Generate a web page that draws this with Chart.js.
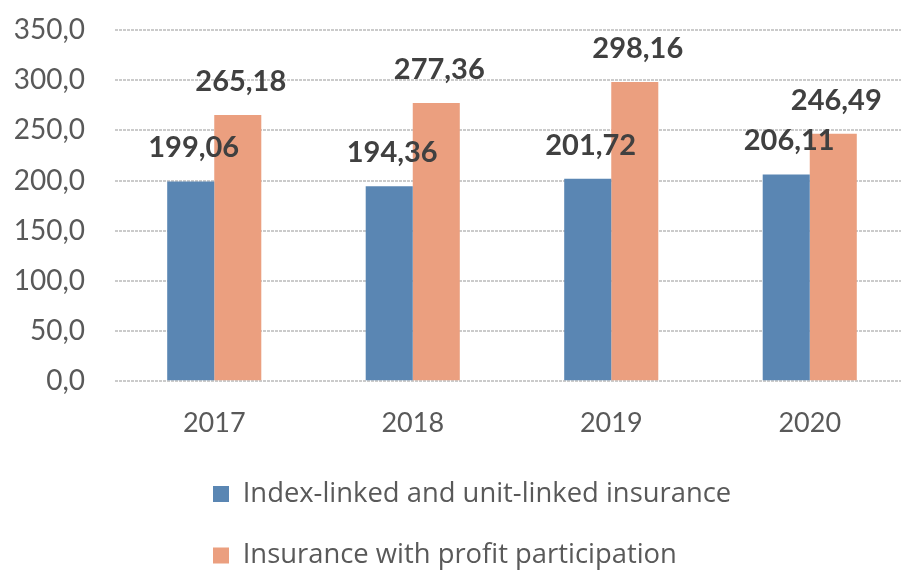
<!DOCTYPE html>
<html>
<head>
<meta charset="utf-8">
<script src="https://cdn.jsdelivr.net/npm/chart.js@4"></script>
<style>
  html, body { margin: 0; padding: 0; background: #ffffff; overflow: hidden; }
  #wrap { position: relative; width: 910px; height: 590px; }
</style>
</head>
<body>
<div id="wrap"><canvas id="c"></canvas></div>
<script>
const categories = ['2017', '2018', '2019', '2020'];
const seriesNames = ['Index-linked and unit-linked insurance', 'Insurance with profit participation'];
const indexLinked = [199.06, 194.36, 201.72, 206.11];
const profitParticipation = [265.18, 277.36, 298.16, 246.49];
const yTicks = [0, 50, 100, 150, 200, 250, 300, 350];

const FONT = 'Lato, "Open Sans", sans-serif';
const LEGEND_FONT = '"Open Sans", Lato, sans-serif';
const fmt = (v, d) => v.toFixed(d).replace('.', ',');

const dataLabels = {
  id: 'dataLabels',
  afterDatasetsDraw(chart) {
    const ctx = chart.ctx;
    ctx.save();
    ctx.font = 'bold 29px ' + FONT;
    ctx.fillStyle = '#404040';
    ctx.textAlign = 'center';
    ctx.textBaseline = 'alphabetic';
    chart.data.datasets.forEach((ds, i) => {
      const meta = chart.getDatasetMeta(i);
      meta.data.forEach((el, j) => {
        ctx.fillText(fmt(ds.data[j], 2), el.x + 3, el.y - 24);
      });
    });
    ctx.restore();
  }
};

const legendPlace = {
  id: 'legendPlace',
  afterLayout(chart) {
    const lg = chart.legend;
    if (lg) { lg.left = 179; lg.top = 446.3; }
  }
};

new Chart(document.getElementById('c'), {
  type: 'bar',
  data: {
    labels: categories,
    datasets: [
      { label: seriesNames[0], data: indexLinked, backgroundColor: '#5a86b3', borderWidth: 0 },
      { label: seriesNames[1], data: profitParticipation, backgroundColor: '#eb9f7f', borderWidth: 0 }
    ]
  },
  options: {
    responsive: true,
    maintainAspectRatio: false,
    animation: false,
    layout: { padding: { top: 30, right: 1, bottom: 16, left: 0 } },
    datasets: { bar: { categoryPercentage: 0.474, barPercentage: 1.0 } },
    scales: {
      x: {
        grid: { display: false, drawTicks: false },
        border: { display: false },
        ticks: { color: '#595959', font: { family: FONT, size: 27 }, padding: 26 },
        afterFit(scale) { scale.height = 60; }
      },
      y: {
        min: 0, max: 350,
        afterBuildTicks(scale) { scale.ticks = yTicks.map(v => ({ value: v })); },
        grid: { color: 'rgba(185,185,185,0.75)', lineWidth: 2, drawTicks: false, borderDash: [3, 1] },
        border: { display: false, dash: [3, 1] },
        ticks: { color: '#595959', font: { family: FONT, size: 28 }, padding: 30,
                 callback: (v) => fmt(v, 1) },
        afterFit(scale) { scale.width = 115; scale.paddingTop = 0; scale.paddingBottom = 0; }
      }
    },
    plugins: {
      legend: {
        position: 'bottom',
        align: 'start',
        labels: { boxWidth: 16, boxHeight: 16, padding: 34, color: '#595959',
                  font: { family: LEGEND_FONT, size: 27.4 } }
      },
      tooltip: { enabled: false }
    }
  },
  plugins: [dataLabels, legendPlace]
});
</script>
</body>
</html>
